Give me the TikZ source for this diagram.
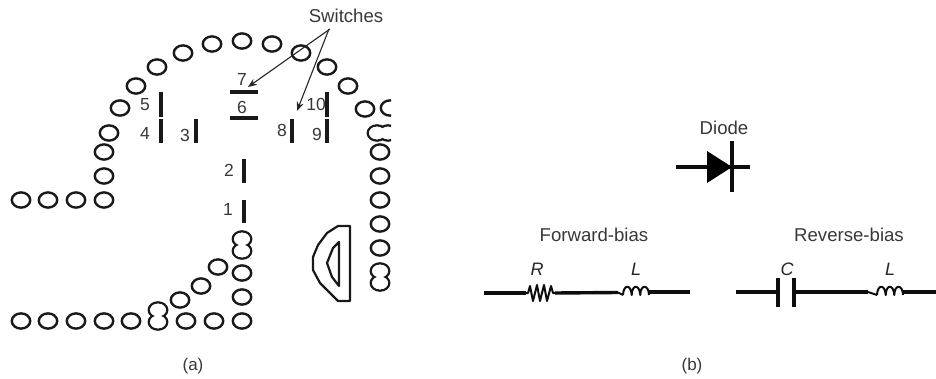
\documentclass[tikz,border=0pt]{standalone}
\usepackage{fontspec}
\setmainfont{Liberation Sans}
\usetikzlibrary{arrows.meta}
\tikzset{
 x=1pt,y=-1pt,
 bead/.style={draw=black!90,line width=2.4pt},
 swbar/.style={draw=black!90,line width=3.2pt},
 lbl/.style={inner sep=0pt,text=black!78,font=\fontsize{18.6}{21}\selectfont},
 numlbl/.style={inner sep=0pt,text=black!78,font=\fontsize{17.5}{20}\selectfont},
 subcap/.style={inner sep=0pt,text=black!78,font=\fontsize{17}{20}\selectfont},
 ital/.style={inner sep=0pt,text=black!85,font=\fontsize{18}{20}\selectfont\itshape},
 wire/.style={draw=black!95,line width=3.4pt},
 thinwire/.style={draw=black!95,line width=2pt,line join=round},
 lens/.style={draw=black!90,line width=2.2pt,line join=round},
 lead/.style={draw=black!85,line width=1.1pt,-{Stealth[length=9pt,width=7pt]}},
}
\newcommand{\beadat}[2]{\draw[bead] (#1,#2) ellipse [x radius=9.2pt,y radius=7.6pt];}
\newcommand{\beadin}[2]{\fill[white] (#1,#2) ellipse [x radius=8pt,y radius=6.4pt];}
\newcommand{\coil}[2]{%
 \begin{scope}[shift={(#1,#2)}]
 \draw[thinwire] (0,0)
  .. controls (0.5,-11) and (8,-11) .. (8.7,0)
  .. controls (9,-11) and (16.5,-11) .. (17.3,0)
  .. controls (17.5,-11) and (25.5,-11) .. (26,0);
 \end{scope}}
\begin{document}
\begin{tikzpicture}
\useasboundingbox (0,0) rectangle (936,379);
\fill[white] (0,0) rectangle (936,379);
\foreach \x/\y in {104/176,109/133,104/152,120/108,136/86,157/67,183/53,212/44,242/41,272/44,301/53,327/67,348/86,365/109,380/152,380/176,
 21/200,48/200,76/200,104/200,
 380/200,380/224,380/248,
 21/321,48/321,76/321,104/321,131/321,186/321,214/321,242/321,
 242/297,242/273,180/300,201/286,218/267}{\beadat{\x}{\y}}
\begin{scope}
 \clip (340,100) rectangle (391,145);
 \beadat{390}{108}
 \beadat{377}{133}\beadat{388}{133}
 \beadin{377}{133}\beadin{388}{133}
\end{scope}
% merged pairs
\beadat{380}{271}\beadat{380}{283}\beadin{380}{271}\beadin{380}{283}
\beadat{242}{239}\beadat{242}{251}\beadin{242}{239}\beadin{242}{251}
\beadat{158}{310}\beadat{158}{322}\beadin{158}{310}\beadin{158}{322}
% switches
\foreach \a/\b/\c/\d in {161/92/161/117,161/119/161/143,196/119/196/143,230/92/258/92,230/118/258/118,244/159/244/183,244/200/244/223,292/119/292/143,327/92/327/117,327/119/327/143}
 {\draw[swbar] (\a,\b) -- (\c,\d);}
\node[numlbl] (n5) at (145,105) {5};
\node[numlbl] (n4) at (145,133) {4};
\node[numlbl] (n3) at (185,135) {3};
\node[numlbl] (n2) at (229,170) {2};
\node[numlbl] (n1) at (228,209) {1};
\node[numlbl] (n7) at (242,79) {7};
\node[numlbl] (n6) at (242,107) {6};
\node[numlbl] (n8) at (282,130) {8};
\node[numlbl] (n10) at (316,104) {10};
\node[numlbl] (n9) at (317,134) {9};
\node[lbl] (sw) at (346,16) {Switches};
\coordinate (t7) at (248,87);
\coordinate (t10) at (297,111);
\coordinate (s1) at (330,29);
\coordinate (s2) at (329,29);
\draw[lead] (s1) -- (t7);
\draw[lead] (s2) -- (t10);
% lens
\draw[lens] (350,226) -- (338,226) -- (327,233) -- (318,245) -- (313,257) -- (313,270) -- (320,283) -- (338,301) -- (350,301) -- cycle;
\draw[lens] (339,242) -- (333,248) -- (327,263) -- (332,277) -- (339,286) -- cycle;
% captions
\node[subcap] (capa) at (193,366) {(a)};
\node[subcap] (capb) at (692,366) {(b)};
\node[lbl] (diode) at (724,128) {Diode};
\node[lbl] (fw) at (594,235) {Forward-bias};
\node[lbl] (rv) at (849,235) {Reverse-bias};
\node[ital] (R) at (537,269) {R};
\node[ital] (L1) at (636,269) {L};
\node[ital] (C) at (787,269) {C};
\node[ital] (L2) at (890,269) {L};
% diode
\coordinate (dl) at (676,167); \coordinate (dr) at (750,167);
\coordinate (bt) at (732,141); \coordinate (bb) at (732,192);
\draw[wire] (dl) -- (dr);
\draw[wire] (bt) -- (bb);
\fill[black] (707,151) -- (707,183) -- (732,167) -- cycle;
% forward branch
\coordinate (f0) at (484,293); \coordinate (f1) at (526,293); \coordinate (f2) at (555,293); \coordinate (f3) at (618,292.5);
\draw[wire] (f0) -- (f1);
\draw[thinwire] (f1) -- (528,293) -- (530,286) -- (533,301) -- (537,285) -- (540,301) -- (544,285) -- (547,301) -- (551,286) -- (553,293) -- (f2);
\draw[wire] (f2) -- (f3);
\draw[thinwire] (f3) -- (623,295);
\coil{623}{295}
\draw[wire] (649,292) -- (690,292);
% reverse branch
\coordinate (r0) at (736,292); \coordinate (r1) at (778,292); \coordinate (r2) at (794,292); \coordinate (r3) at (868,292);
\draw[wire] (r0) -- (r1);
\draw[wire] (778,278) -- (778,307);
\draw[wire] (794,278) -- (794,307);
\draw[wire] (r2) -- (r3);
\draw[thinwire] (r3) -- (877,295);
\coil{877}{295}
\draw[wire] (902,292) -- (936,292);
\end{tikzpicture}
\end{document}
